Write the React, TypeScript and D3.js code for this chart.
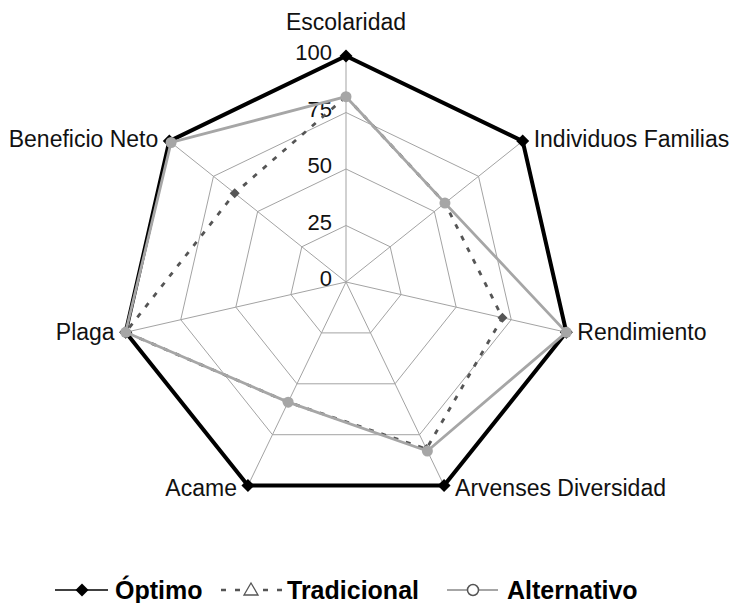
import React from "react";
import * as d3 from "d3";

const categories = [
  "Escolaridad",
  "Individuos Familias",
  "Rendimiento",
  "Arvenses Diversidad",
  "Acame",
  "Plaga",
  "Beneficio Neto",
];
const optimo = [100, 100, 100, 100, 100, 100, 100];
const tradicional = [82, 56, 71, 82, 59, 100, 63];
const alternativo = [82, 56, 100, 83, 59, 100, 99];
const ringTicks = [0, 25, 50, 75, 100];
const seriesNames = ["Óptimo", "Tradicional", "Alternativo"];

const W = 734;
const H = 603;
const cx = 346;
const cy = 282;
const FONT = "Arial, 'Liberation Sans', Helvetica, sans-serif";

export default function App() {
  const r = d3.scaleLinear().domain([0, 100]).range([0, 226]);
  const n = categories.length;
  const angle = d3
    .scaleLinear()
    .domain([0, n])
    .range([0, 2 * Math.PI]);

  const pt = (i: number, v: number): [number, number] => {
    const a = angle(i);
    return [cx + r(v) * Math.sin(a), cy - r(v) * Math.cos(a)];
  };

  const radial = d3
    .lineRadial<number>()
    .angle((_, i) => angle(i))
    .radius((d) => r(d))
    .curve(d3.curveLinearClosed);

  const diamond = (x: number, y: number, s: number) =>
    `M${x},${y - s}L${x + s},${y}L${x},${y + s}L${x - s},${y}Z`;

  const grid = "#a3a3a3";
  const tradColor = "#555555";
  const altColor = "#a6a6a6";

  return (
    <svg
      width={W}
      height={H}
      style={{ position: "absolute", left: 0, top: 0, background: "#fff" }}
      fontFamily={FONT}
    >
      <rect width={W} height={H} fill="#fff" />
      {/* grid rings */}
      <g transform={`translate(${cx},${cy})`}>
        {ringTicks.slice(1).map((t) => (
          <path
            key={t}
            d={radial(categories.map(() => t)) || ""}
            fill="none"
            stroke={grid}
            strokeWidth={1}
          />
        ))}
      </g>
      {/* spokes */}
      {categories.map((c, i) => {
        const [x, y] = pt(i, 100);
        return (
          <line key={c} x1={cx} y1={cy} x2={x} y2={y} stroke={grid} strokeWidth={1} />
        );
      })}
      {/* tick labels */}
      {ringTicks.map((t) => (
        <text
          key={t}
          x={332}
          y={cy - r(t) + 4}
          textAnchor="end"
          fontSize={22}
          fill="#111"
        >
          {t}
        </text>
      ))}

      {/* Óptimo */}
      <g transform={`translate(${cx},${cy})`}>
        <path d={radial(optimo) || ""} fill="none" stroke="#000" strokeWidth={4} strokeLinejoin="miter" />
      </g>
      {optimo.map((v, i) => {
        const [x, y] = pt(i, v);
        return <path key={i} d={diamond(x, y, 6.5)} fill="#000" />;
      })}

      {/* Tradicional */}
      <g transform={`translate(${cx},${cy})`}>
        <path
          d={radial(tradicional) || ""}
          fill="none"
          stroke={tradColor}
          strokeWidth={2.8}
          strokeDasharray="5,8"
        />
      </g>
      {tradicional.map((v, i) => {
        const [x, y] = pt(i, v);
        return <path key={i} d={diamond(x, y, 5)} fill={tradColor} />;
      })}

      {/* Alternativo */}
      <g transform={`translate(${cx},${cy})`}>
        <path d={radial(alternativo) || ""} fill="none" stroke={altColor} strokeWidth={2.8} />
      </g>
      {alternativo.map((v, i) => {
        const [x, y] = pt(i, v);
        return <circle key={i} cx={x} cy={y} r={5.5} fill={altColor} />;
      })}

      {/* category labels */}
      {categories.map((c, i) => {
        const a = angle(i);
        const s = Math.sin(a);
        const co = Math.cos(a);
        const [x, y] = pt(i, 100);
        let anchor = "middle";
        let dx = 0;
        let dy = 7.5 - 3 * co;
        if (Math.abs(s) < 0.1) {
          dy = -26;
        } else if (s > 0) {
          anchor = "start";
          dx = 11;
        } else {
          anchor = "end";
          dx = -11;
        }
        return (
          <text key={c} x={x + dx} y={y + dy} textAnchor={anchor} fontSize={23} fill="#111">
            {c}
          </text>
        );
      })}

      {/* legend */}
      <g>
        <line x1={55} x2={108} y1={590} y2={590} stroke="#000" strokeWidth={1.5} />
        <path d={diamond(82, 590, 6.5)} fill="#000" />
        <text x={115} y={599} fontSize={25} fontWeight="bold" fill="#000">
          {seriesNames[0]}
        </text>

        <line
          x1={221}
          x2={282}
          y1={590}
          y2={590}
          stroke={tradColor}
          strokeWidth={2.5}
          strokeDasharray="5,9"
        />
        <rect x={244} y={582} width={14} height={14} fill="#fff" />
        <path d="M251,583L258,595L244,595Z" fill="#fff" stroke={tradColor} strokeWidth={1.3} />
        <text x={287} y={599} fontSize={25} fontWeight="bold" fill="#000">
          {seriesNames[1]}
        </text>

        <line x1={447} x2={498} y1={590} y2={590} stroke={altColor} strokeWidth={2} />
        <circle cx={473} cy={590} r={5.5} fill="#fff" stroke="#555" strokeWidth={1.5} />
        <text x={507} y={599} fontSize={25} fontWeight="bold" fill="#000">
          {seriesNames[2]}
        </text>
      </g>
    </svg>
  );
}
